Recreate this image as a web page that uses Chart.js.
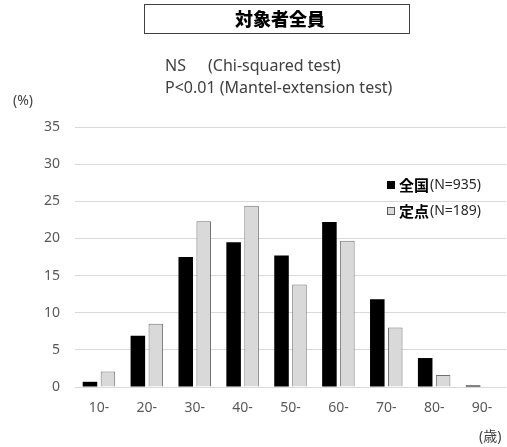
<!DOCTYPE html>
<html><head><meta charset="utf-8">
<script src="https://cdn.jsdelivr.net/npm/chart.js@4/dist/chart.umd.min.js"></script>
<style>html,body{margin:0;padding:0;background:#fff;}#wrap{position:relative;width:507px;height:447px;}</style>
</head><body><div id="wrap"><canvas id="c" width="507" height="447"></canvas></div>
<script>
const categories = ["10-","20-","30-","40-","50-","60-","70-","80-","90-"];
const zenkoku = [0.7, 6.9, 17.5, 19.5, 17.7, 22.2, 11.8, 3.9, 0.2];
const teiten = [2.1, 8.5, 22.3, 24.4, 13.8, 19.7, 8.0, 1.6, 0];
const seriesKanji = ["全国", "定点"];
const seriesN = ["(N=935)", "(N=189)"];
const yTicks = [0,5,10,15,20,25,30,35];
const titleText = "対象者全員";
const noteLines = [["NS", "(Chi-squared test)"], ["P<0.01", "(Mantel-extension test)"]];

const FONT = '"Noto Sans", "Noto Sans CJK JP", sans-serif';

const overlay = {
  id: 'overlay',
  afterDraw(chart) {
    const ctx = chart.ctx;
    ctx.save();
    ctx.strokeStyle = '#404040';
    ctx.lineWidth = 1;
    ctx.strokeRect(144.5, 4.5, 265, 29);
    ctx.fillStyle = '#000';
    ctx.font = '900 18px "Noto Sans CJK JP", sans-serif';
    ctx.textAlign = 'center';
    ctx.textBaseline = 'middle';
    ctx.fillText(titleText, 280, 19);
    ctx.fillStyle = '#404040';
    ctx.font = '16px ' + FONT;
    ctx.textAlign = 'left';
    ctx.fillText(noteLines[0][0], 165, 66);
    ctx.fillText(noteLines[0][1], 208, 66);
    ctx.fillText(noteLines[1][0] + ' ' + noteLines[1][1], 165, 88);
    ctx.font = '14px ' + FONT;
    ctx.fillText('(%)', 13, 101);
    ctx.fillText('(歳)', 479, 437);
    const ds = chart.data.datasets;
    const rows = [185, 211];
    rows.forEach((y, i) => {
      ctx.fillStyle = ds[i].backgroundColor;
      ctx.fillRect(387, y - 4, 8, 8);
      if (i === 1) { ctx.strokeStyle = '#595959'; ctx.strokeRect(387.5, y - 3.5, 7, 7); }
      ctx.fillStyle = '#000';
      ctx.font = 'bold 15px "Noto Sans CJK JP", sans-serif';
      ctx.fillText(seriesKanji[i], 399, y);
      const w = ctx.measureText(seriesKanji[i]).width;
      ctx.fillStyle = '#262626';
      ctx.font = '14px ' + FONT;
      ctx.fillText(seriesN[i], 399 + w + 1, y);
    });
    ctx.restore();
  }
};

new Chart(document.getElementById('c'), {
  type: 'bar',
  data: {
    labels: categories,
    datasets: [
      { label: seriesKanji[0] + seriesN[0], data: zenkoku, backgroundColor: '#000000', borderColor: '#000000', borderWidth: 0 },
      { label: seriesKanji[1] + seriesN[1], data: teiten, backgroundColor: '#d9d9d9', borderColor: '#707070', borderWidth: 1 }
    ]
  },
  options: {
    responsive: false,
    animation: false,
    events: [],
    layout: { padding: { top: 127, left: 0, right: 1, bottom: 0 } },
    datasets: { bar: { barPercentage: 0.81, categoryPercentage: 0.75, borderSkipped: 'bottom' } },
    plugins: { legend: { display: false }, tooltip: { enabled: false }, title: { display: false } },
    scales: {
      x: {
        grid: { display: false, drawTicks: false },
        border: { display: false },
        ticks: { color: '#595959', font: { size: 14, family: FONT }, padding: 13, maxRotation: 0 },
        afterFit(s) { s.height = 60; }
      },
      y: {
        min: 0, max: 35,
        afterBuildTicks(s) { s.ticks = yTicks.map(v => ({ value: v })); },
        grid: { color: '#d9d9d9', drawTicks: false },
        border: { display: false },
        ticks: { color: '#595959', font: { size: 14, family: FONT }, padding: 15 },
        afterFit(s) { s.width = 75; }
      }
    }
  },
  plugins: [overlay]
});
</script></body></html>
